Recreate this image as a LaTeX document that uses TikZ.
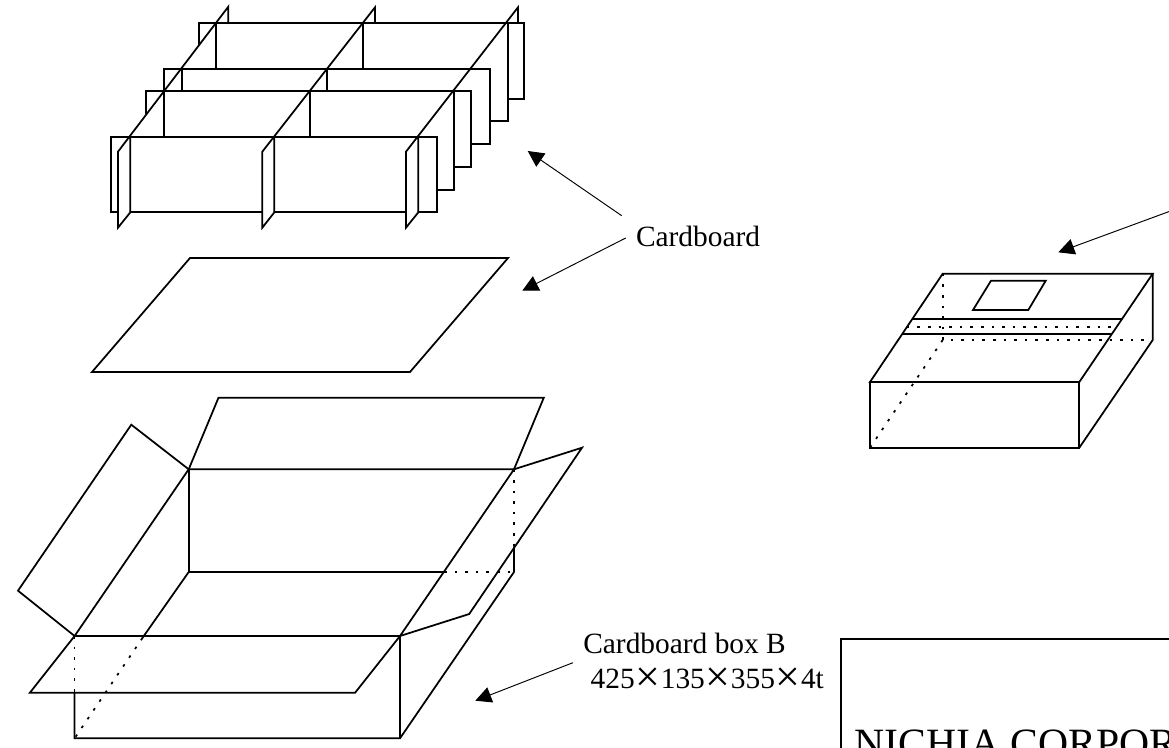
\documentclass[tikz,border=0pt]{standalone}
\usepackage{fontspec}
\setmainfont{Liberation Serif}
\usetikzlibrary{arrows.meta}
\tikzset{
  ln/.style={line width=1.75pt,line join=miter,line cap=round,black},
  dot/.style={line width=1.75pt,dash pattern=on 2.6pt off 8pt,black},
  pointer/.style={line width=0.95pt,black,-{Triangle[length=16pt,width=16pt]}},
  lbl/.style={anchor=base west,inner sep=0pt,outer sep=0pt,font=\fontsize{29.4}{34}\selectfont},
}
\newcommand{\tms}{\makebox[26pt]{\raisebox{-3.2pt}{\scalebox{1.5}{×}}}}
\begin{document}
\begin{tikzpicture}[x=1pt,y=-1pt]
\useasboundingbox (0,0) rectangle (1169,747);
\clip (0,0) rectangle (1169,747);
% partitions
\begin{scope}[shift={(90,0)},x=0.33333pt,y=-0.33333pt]
\draw[ln] (326,135)--(326,70)--(1303,70)--(1303,297)--(1254,297);
\draw[ln] (221,273)--(221,206)--(1199,206)--(1199,433)--(1143,433);
\draw[ln] (167,340)--(167,273)--(1143,273)--(1143,500)--(1094,500);
\draw[ln] (62,637)--(62,410)--(1040,410)--(1040,637)--(985,637);
\draw[ln] (62,637)--(84,637) (121,637)--(517,637) (553,637)--(948,637);
\draw[ln] (1040,570)--(1093,570);
% cross partitions
\draw[ln] (415,70)--(415,20)--(84,455)--(84,683)--(121,637)--(121,410);
\draw[ln] (855,70)--(855,22)--(517,455)--(517,683)--(553,637)--(553,410);
\draw[ln] (1284,70)--(1284,22)--(948,455)--(948,683)--(985,637)--(985,410);
\draw[ln] (222,273)--(222,410) (275,206)--(275,273) (378,70)--(378,206);
\draw[ln] (659,273)--(659,410) (711,206)--(711,273) (818,70)--(818,206);
\draw[ln] (1093,273)--(1093,570) (1254,70)--(1254,364)--(1199,364);
\end{scope}
% sheet
\draw[ln] (190,258)--(508,258)--(410,372)--(92,372)--cycle;
% open box
\draw[ln] (188.7,469.3)--(218.5,397.7)--(543.8,397.7)--(514,469.3);
\draw[ln] (188.7,469.3)--(131.3,424.7)--(18,590.7)--(74.6,636);
\draw[ln] (514,469.3)--(582,447.7)--(469.2,614)--(400,636);
\draw[ln] (188.7,469.3)--(514,469.3)--(400,636)--(355.1,692.7)--(29.9,692.7)--(74.6,636)--cycle;
\draw[ln] (74.6,636)--(400,636);
\draw[ln] (188.7,469.3)--(188.7,572)--(444,572);
\draw[ln] (188.7,572)--(142.4,638);
\draw[ln] (514,546.7)--(514,572)--(400,738.3)--(74.6,738.3)--(74.6,692.7);
\draw[ln] (400,636)--(400,738.3);
\draw[dot] (514,469.3)--(514,546.7);
\draw[dot] (444,572)--(514,572);
\draw[dot] (74.6,636)--(74.6,692.7);
\draw[dot] (142.4,638)--(74.6,738.3);
% closed box
\draw[ln] (942.7,273.7)--(1152.7,273.7)--(1079.3,382)--(870,382)--cycle;
\draw[ln] (870,382)--(870,447.7)--(1079.3,447.7)--(1079.3,382);
\draw[ln] (1152.7,273.7)--(1152.7,340)--(1079.3,447.7);
\draw[ln] (991,280.7)--(1045.7,280.7)--(1028.3,310)--(973,310)--cycle;
\draw[ln] (912.7,318.7)--(1121.7,318.7) (902.7,334)--(1111,334);
\draw[dot] (942.7,273.7)--(942.7,340)--(1152.7,340);
\draw[dot] (942.7,340)--(870,447.7);
\draw[dot] (906.7,327)--(1113,327);
% label frame
\draw[line width=1.75pt,black] (1180,639.3)--(841,639.3)--(841,760);
% labels
\node[lbl] (cb) at (636,246.7) {Cardboard};
\node[lbl] (boxb) at (583.3,653.3) {Cardboard box B};
\node[lbl] (dims) at (590.7,688.3) {425\tms 135\tms 355\tms 4t};
\node[anchor=base west,inner sep=0pt,font=\fontsize{41.7}{48}\selectfont] (nichia) at (854,757) {NICHIA CORPOR};
% pointers
\coordinate (a1s) at (621.7,215.7); \coordinate (a1e) at (527.7,151);
\coordinate (a2s) at (625.7,238);   \coordinate (a2e) at (522.3,290.7);
\coordinate (a3s) at (572.9,662.7); \coordinate (a3e) at (475.3,700.7);
\coordinate (a4s) at (1170,211.2);  \coordinate (a4e) at (1058.3,252.3);
\draw[pointer] (a1s)--(a1e);
\draw[pointer] (a2s)--(a2e);
\draw[pointer] (a3s)--(a3e);
\draw[pointer] (a4s)--(a4e);
\end{tikzpicture}
\end{document}
